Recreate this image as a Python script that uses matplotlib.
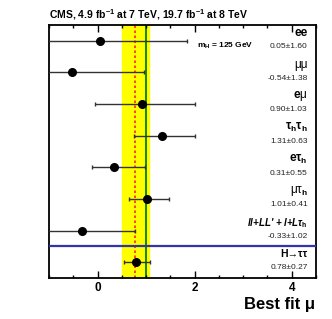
import matplotlib
matplotlib.use("Agg")
import matplotlib.pyplot as plt
from matplotlib.ticker import MultipleLocator

plt.rcParams["font.family"] = ["Liberation Sans", "DejaVu Sans"]
plt.rcParams["mathtext.fontset"] = "custom"
plt.rcParams["mathtext.rm"] = "Liberation Sans"
plt.rcParams["mathtext.it"] = "Liberation Sans:italic"
plt.rcParams["mathtext.bf"] = "Liberation Sans:bold"
plt.rcParams["mathtext.default"] = "regular"

labels = [r"ee", r"μμ", r"e$\mathrm{μ}$", r"τ$_\mathbf{h}$τ$_\mathbf{h}$",
          r"eτ$_\mathbf{h}$", r"μτ$_\mathbf{h}$",
          r"ll+LL' + l+Lτ$_\mathbf{h}$", r"H→ττ"]
value_texts = ["0.05±1.60", "-0.54±1.38", "0.90±1.03", "1.31±0.63",
               "0.31±0.55", "1.01±0.41", "-0.33±1.02", "0.78±0.27"]
mu = [0.06, -0.52, 0.91, 1.32, 0.33, 1.02, -0.31, 0.80]
err_lo = [1.60, 1.38, 0.97, 0.56, 0.45, 0.38, 1.02, 0.26]
err_hi = [1.78, 1.47, 1.09, 0.68, 0.65, 0.45, 1.09, 0.28]
combined_mu = 0.78
combined_lo = 0.27
combined_hi = 0.27
sm_mu = 1.0

fig = plt.figure(figsize=(3.32, 3.19), dpi=100)
ax = fig.add_axes([49/332, 1-278/319, (316-49)/332, (278-25)/319])
ax.set_xlim(-1, 4.5)
ax.set_ylim(8, 0)

ax.axvspan(combined_mu - combined_lo, combined_mu + combined_hi, color="#ffff00", zorder=0)
ax.axvline(sm_mu, color="#008000", lw=1.3, zorder=1)
ax.axvline(combined_mu, color="#ff2020", lw=1.2, ls=(0, (1.5, 1.5)), zorder=2)
ax.axhline(7, color="#3333aa", lw=1.6, zorder=3)

ys = [i + 0.5 for i in range(len(mu))]
ax.errorbar(mu, ys, xerr=[err_lo, err_hi], fmt="o", color="black", ecolor="#333333",
            elinewidth=1.0, capsize=1.5, capthick=1.0, markersize=5.5, zorder=5)

xt = 4.33
greek_only = {1, 5}
sizes = [8.5, 8.5, 8.5, 8.5, 8.5, 8.5, 7, 7.5]
for i, (lab, vt) in enumerate(zip(labels, value_texts)):
    kw = dict(ha="right", va="center", fontsize=sizes[i], fontweight="bold")
    if i == 6:
        kw["style"] = "italic"
    if i in greek_only:
        kw["fontweight"] = "normal"
    ax.text(xt, ys[i] - 0.25, lab, **kw)
    ax.text(xt, ys[i] + 0.18, vt, ha="right", va="center", fontsize=6, color="#222222")

ax.text(2.05, 0.65, r"m$_\mathbf{H}$ = 125 GeV", fontsize=6, fontweight="bold", ha="left", va="center")

ax.xaxis.set_major_locator(MultipleLocator(2))
ax.xaxis.set_minor_locator(MultipleLocator(0.5))
ax.tick_params(axis="x", which="both", direction="in", top=True, bottom=True)
ax.tick_params(axis="x", which="major", length=5, width=1, labelsize=8.5, pad=3)
ax.tick_params(axis="x", which="minor", length=2.5, width=1)
for lbl in ax.get_xticklabels():
    lbl.set_fontweight("bold")
ax.set_yticks([])
for s in ax.spines.values():
    s.set_linewidth(1.3)

fig.text(49/332, 1-15/319, r"CMS, 4.9 fb$^\mathbf{-1}$ at 7 TeV, 19.7 fb$^\mathbf{-1}$ at 8 TeV",
         fontsize=7.5, fontweight="bold", ha="left", va="center")
fig.text(315/332, 1-305/319, "Best fit μ", fontsize=12, fontweight="bold", ha="right", va="center")

fig.savefig("out.png", dpi=100)
